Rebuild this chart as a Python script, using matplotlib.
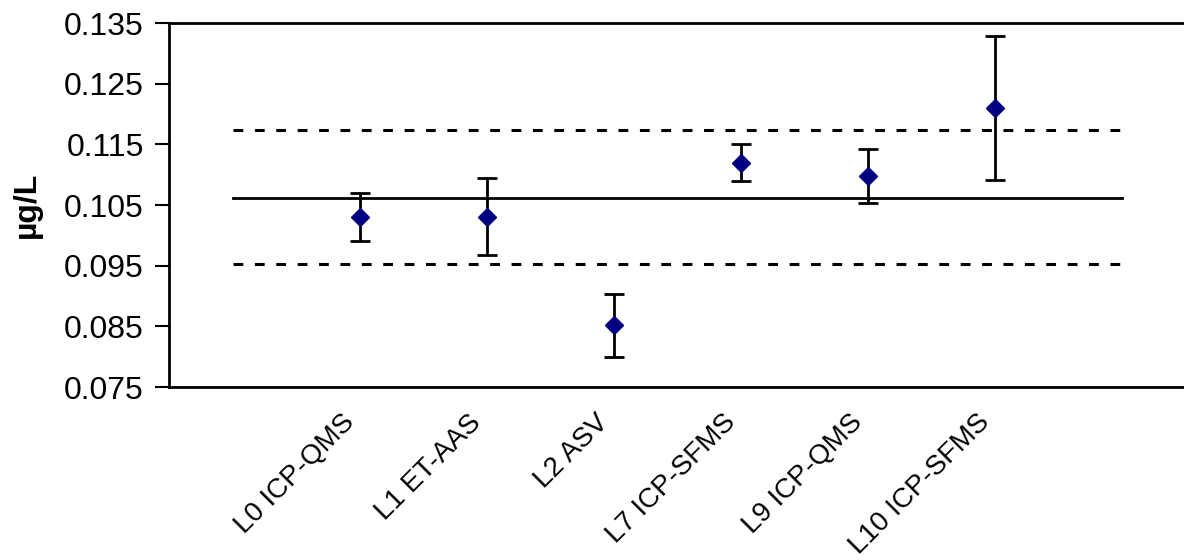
import numpy as np
import matplotlib
matplotlib.use("Agg")
from matplotlib import pyplot as plt

plt.rcParams['font.family'] = ['Liberation Sans', 'DejaVu Sans']

# lab results (µg/L) with uncertainties
labs = ['L0 ICP-QMS', 'L1 ET-AAS', 'L2 ASV', 'L7 ICP-SFMS', 'L9 ICP-QMS', 'L10 ICP-SFMS']
valores = [0.1030, 0.1031, 0.0852, 0.1120, 0.1098, 0.1210]
incert = [0.0040, 0.0064, 0.0052, 0.0030, 0.0045, 0.0119]

# assigned value and limits
ref = 0.1062
lim_sup = 0.1173
lim_inf = 0.0952

yticks = [0.075, 0.085, 0.095, 0.105, 0.115, 0.125, 0.135]

fig = plt.figure(figsize=(11.84, 5.6), dpi=100)
ax = fig.add_axes([0.1427, 0.3089, 0.8590, 0.6500])

xpos = np.arange(1, len(labs) + 1)
xlinea = [0, len(labs) + 1]

ax.plot(xlinea, [ref, ref], color='black', lw=2)
ax.plot(xlinea, [lim_sup, lim_sup], color='black', lw=2.2, linestyle=(0, (3.2, 3.8)))
ax.plot(xlinea, [lim_inf, lim_inf], color='black', lw=2.2, linestyle=(0, (3.2, 3.8)))

ax.errorbar(xpos, valores, yerr=incert, fmt='D', color='#000080', markersize=9.5,
            ecolor='black', elinewidth=2, capsize=7.5, capthick=2, zorder=3)

ax.set_xlim(-0.5, len(labs) + 1.5)
ax.set_ylim(0.075, 0.135)
ax.set_yticks(yticks)
ax.set_yticklabels(['%.3f' % v for v in yticks], fontsize=23)
ax.set_xticks(xpos)
ax.set_xticklabels(labs, rotation=45, ha='right', fontsize=20)
ax.tick_params(axis='x', length=0, pad=16)
ax.tick_params(axis='y', length=10, width=1.5, direction='out', pad=8)
for s in ax.spines.values():
    s.set_linewidth(2)
ax.set_ylabel('µg/L', fontsize=23, fontweight='bold', labelpad=16)

fig.savefig('out.png', dpi=100)
